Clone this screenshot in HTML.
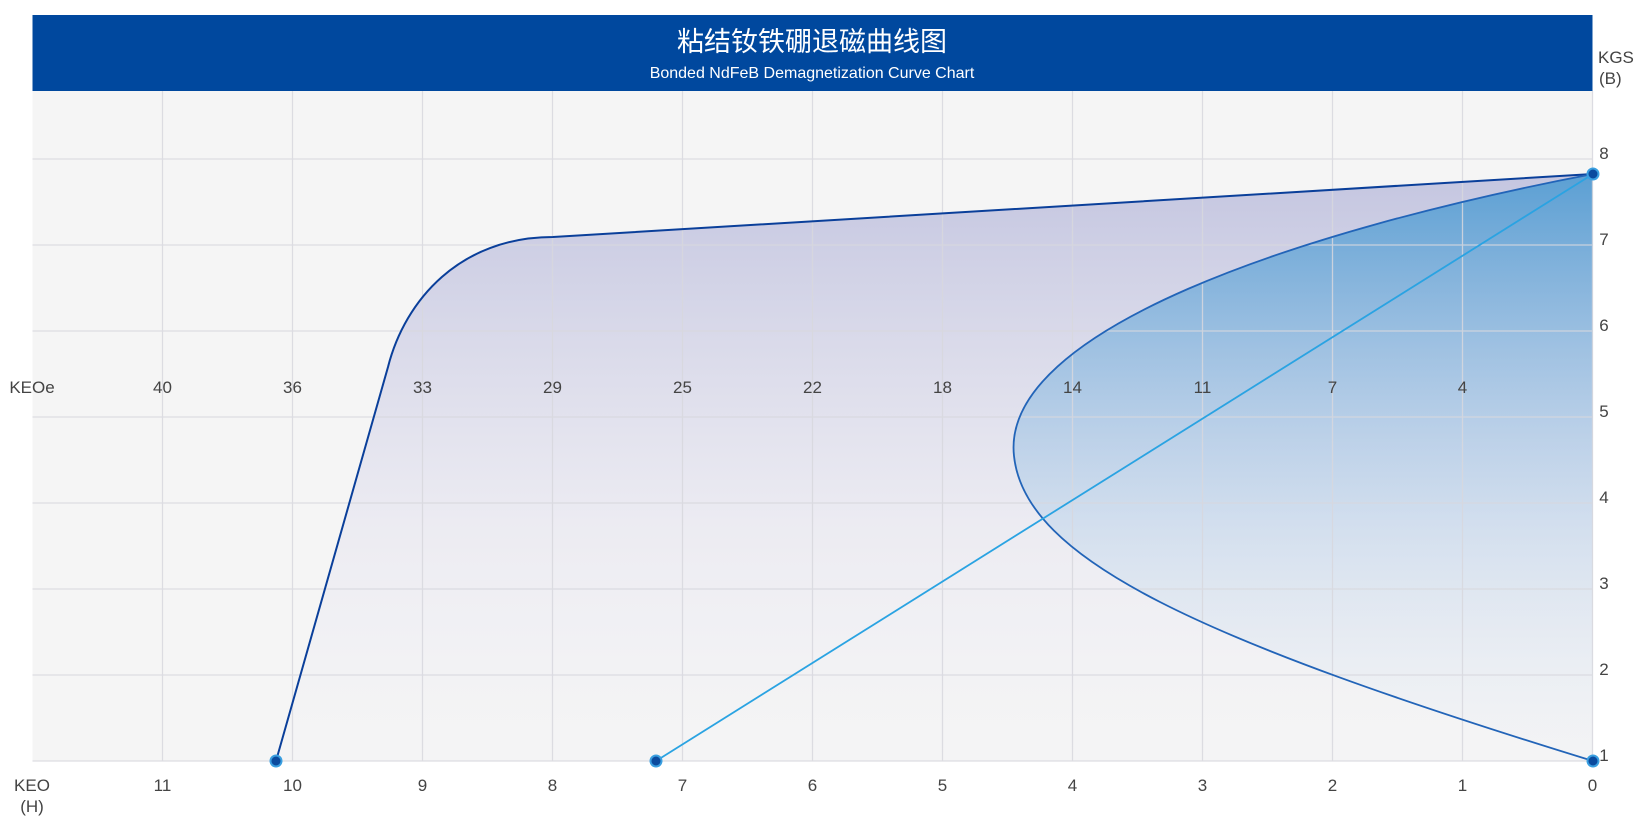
<!DOCTYPE html>
<html><head><meta charset="utf-8"><style>
html,body{margin:0;padding:0;background:#fff;}
svg{display:block;font-family:"Liberation Sans","Noto Sans CJK SC",sans-serif;}
</style></head><body>
<svg width="1644" height="834" viewBox="0 0 1644 834" xmlns="http://www.w3.org/2000/svg">
<defs>
<linearGradient id="g1" x1="0" y1="0" x2="0" y2="1">
<stop offset="0" stop-color="#b8badb" stop-opacity="0.8"/>
<stop offset="0.6" stop-color="#e6e5f0" stop-opacity="0.6"/>
<stop offset="1" stop-color="#f3f3f5" stop-opacity="0.3"/>
</linearGradient>
<linearGradient id="g2" x1="0" y1="0" x2="0" y2="1">
<stop offset="0" stop-color="#4f9bd2" stop-opacity="0.9"/>
<stop offset="0.45" stop-color="#9cc2e4" stop-opacity="0.55"/>
<stop offset="1" stop-color="#e8eef5" stop-opacity="0.1"/>
</linearGradient>
</defs>
<rect x="32.5" y="91" width="1560" height="670" fill="#f5f5f5"/>
<rect x="32.5" y="15" width="1560" height="76" fill="#00489e"/>
<text x="812" y="51" text-anchor="middle" fill="#fff" font-size="27">粘结钕铁硼退磁曲线图</text>
<text x="812" y="78" text-anchor="middle" fill="#fff" font-size="16">Bonded NdFeB Demagnetization Curve Chart</text>
<path d="M276,761 L388,367 C405,300 460,237 553,237 L1593,174 L1593,761 Z" fill="url(#g1)"/>
<path d="M1593,174 C1300,230 1000,330 1014,456 C1025,560 1200,640 1593,761 Z" fill="url(#g2)"/>
<g stroke="#d8d8de" stroke-width="1.3" opacity="0.85">
<line x1="162.5" y1="91" x2="162.5" y2="761"/><line x1="292.5" y1="91" x2="292.5" y2="761"/>
<line x1="422.5" y1="91" x2="422.5" y2="761"/><line x1="552.5" y1="91" x2="552.5" y2="761"/>
<line x1="682.5" y1="91" x2="682.5" y2="761"/><line x1="812.5" y1="91" x2="812.5" y2="761"/>
<line x1="942.5" y1="91" x2="942.5" y2="761"/><line x1="1072.5" y1="91" x2="1072.5" y2="761"/>
<line x1="1202.5" y1="91" x2="1202.5" y2="761"/><line x1="1332.5" y1="91" x2="1332.5" y2="761"/>
<line x1="1462.5" y1="91" x2="1462.5" y2="761"/><line x1="1592.5" y1="91" x2="1592.5" y2="761"/>
<line x1="32.5" y1="159" x2="1592.5" y2="159"/><line x1="32.5" y1="245" x2="1592.5" y2="245"/>
<line x1="32.5" y1="331" x2="1592.5" y2="331"/><line x1="32.5" y1="417" x2="1592.5" y2="417"/>
<line x1="32.5" y1="503" x2="1592.5" y2="503"/><line x1="32.5" y1="589" x2="1592.5" y2="589"/>
<line x1="32.5" y1="675" x2="1592.5" y2="675"/><line x1="32.5" y1="761" x2="1592.5" y2="761"/>
</g>
<path d="M276,761 L388,367 C405,300 460,237 553,237 L1593,174" fill="none" stroke="#0a3f9a" stroke-width="2"/>
<path d="M1593,174 C1300,230 1000,330 1014,456 C1025,560 1200,640 1593,761" fill="none" stroke="#2264b8" stroke-width="1.8"/>
<line x1="656" y1="761" x2="1593" y2="174" stroke="#2aa3e2" stroke-width="1.8"/>
<g fill="#0a4a9e" stroke="#3a9fe0" stroke-width="2">
<circle cx="276" cy="761" r="5.5"/><circle cx="656" cy="761" r="5.5"/>
<circle cx="1593" cy="174" r="5.5"/><circle cx="1593" cy="761" r="5.5"/>
</g>
<g fill="#444" font-size="17" text-anchor="middle">
<text x="32" y="393">KEOe</text>
<text x="162.5" y="393">40</text><text x="292.5" y="393">36</text><text x="422.5" y="393">33</text>
<text x="552.5" y="393">29</text><text x="682.5" y="393">25</text><text x="812.5" y="393">22</text>
<text x="942.5" y="393">18</text><text x="1072.5" y="393">14</text><text x="1202.5" y="393">11</text>
<text x="1332.5" y="393">7</text><text x="1462.5" y="393">4</text>
<text x="32" y="791">KEO</text><text x="32" y="812">(H)</text>
<text x="162.5" y="791">11</text><text x="292.5" y="791">10</text><text x="422.5" y="791">9</text>
<text x="552.5" y="791">8</text><text x="682.5" y="791">7</text><text x="812.5" y="791">6</text>
<text x="942.5" y="791">5</text><text x="1072.5" y="791">4</text><text x="1202.5" y="791">3</text>
<text x="1332.5" y="791">2</text><text x="1462.5" y="791">1</text><text x="1592.5" y="791">0</text>
<text x="1604" y="159">8</text><text x="1604" y="245">7</text><text x="1604" y="331">6</text>
<text x="1604" y="417">5</text><text x="1604" y="503">4</text><text x="1604" y="589">3</text>
<text x="1604" y="675">2</text><text x="1604" y="761">1</text>
</g>
<g fill="#444" font-size="17">
<text x="1598" y="63">KGS</text><text x="1599" y="84">(B)</text>
</g>
</svg>
</body></html>
